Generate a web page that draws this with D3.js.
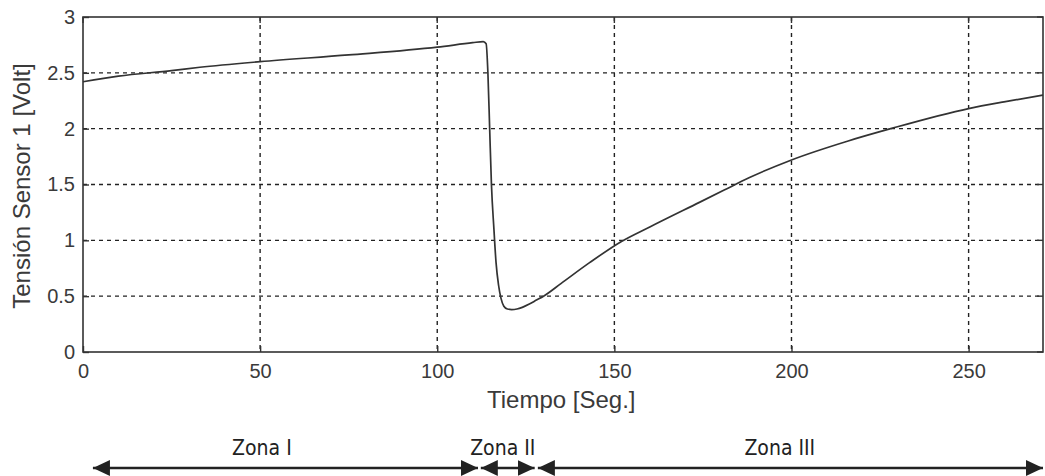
<!DOCTYPE html>
<html>
<head>
<meta charset="utf-8">
<script src="https://cdn.jsdelivr.net/npm/d3@7"></script>
<style>
  body { margin: 0; background: #fff; }
  text { font-family: "Liberation Sans", Arial, sans-serif; }
</style>
</head>
<body>
<div id="chart"></div>
<script>
// time (s) and voltage
const tiempo = [0, 10, 25, 33, 50, 75, 100, 110, 113, 113.8, 114.3, 114.8, 115.3, 116, 116.6, 117.3, 118, 118.8, 119.8, 121, 122.5, 124, 126, 128, 130, 135, 143, 152, 160, 174, 181, 188, 200, 216, 228, 250, 260, 271];
const tension = [2.42, 2.47, 2.52, 2.55, 2.6, 2.66, 2.73, 2.77, 2.78, 2.76, 2.5, 2.0, 1.5, 1.1, 0.8, 0.6, 0.48, 0.41, 0.385, 0.38, 0.385, 0.4, 0.43, 0.465, 0.5, 0.615, 0.8, 0.99, 1.12, 1.34, 1.45, 1.56, 1.72, 1.89, 2.0, 2.18, 2.24, 2.3];
const xTicks = [0, 50, 100, 150, 200, 250];
const yTicks = [0, 0.5, 1, 1.5, 2, 2.5, 3];
const zonas = ["Zona I", "Zona II", "Zona III"];
const zonaInicio = [2.8, 112.3, 128.4];
const zonaFin = [111.5, 127.5, 271];
const zonaEtiqueta = [50.5, 118.5, 196.7];

const W = 1045, H = 476;
const margin = { top: 17, right: 2, bottom: 124, left: 83 },
      width = W - margin.left - margin.right,
      height = H - margin.top - margin.bottom;

const svg = d3.select("#chart").append("svg")
    .attr("width", W).attr("height", H);

const g = svg.append("g")
    .attr("transform", `translate(${margin.left},${margin.top})`);

const x = d3.scaleLinear().domain([0, 271]).range([0, width]);
const y = d3.scaleLinear().domain([0, 3]).range([height, 0]);

// grid
g.selectAll(".gx").data(xTicks.filter(d => d > 0)).enter().append("line")
  .attr("x1", d => x(d)).attr("x2", d => x(d))
  .attr("y1", 0).attr("y2", height)
  .attr("stroke", "#222").attr("stroke-width", 1.4).attr("stroke-dasharray", "4,4");
g.selectAll(".gy").data(yTicks.filter(d => d > 0 && d < 3)).enter().append("line")
  .attr("x1", 0).attr("x2", width)
  .attr("y1", d => y(d)).attr("y2", d => y(d))
  .attr("stroke", "#222").attr("stroke-width", 1.4).attr("stroke-dasharray", "4,4");

// axes
const xAxis = g.append("g").attr("transform", `translate(0,${height})`)
  .call(d3.axisBottom(x).tickValues(xTicks).tickSize(-6).tickPadding(12).tickFormat(d3.format("d")));
const yAxis = g.append("g")
  .call(d3.axisLeft(y).tickValues(yTicks).tickSize(-6).tickPadding(8).tickFormat(d => d));
[xAxis, yAxis].forEach(a => {
  a.select(".domain").remove();
  a.selectAll("line").attr("stroke", "#333").attr("stroke-width", 1.4);
  a.selectAll("text").attr("fill", "#3a3a3a").style("font-size", "20px")
    .style("font-family", "'Liberation Sans', Arial, sans-serif");
});
// top/right ticks
g.selectAll(".tt").data(xTicks).enter().append("line")
  .attr("x1", d => x(d)).attr("x2", d => x(d)).attr("y1", 0).attr("y2", 6)
  .attr("stroke", "#333").attr("stroke-width", 1.4);
g.selectAll(".tr").data(yTicks).enter().append("line")
  .attr("x1", width).attr("x2", width - 6).attr("y1", d => y(d)).attr("y2", d => y(d))
  .attr("stroke", "#333").attr("stroke-width", 1.4);

g.append("rect").attr("width", width).attr("height", height)
  .attr("fill", "none").attr("stroke", "#333").attr("stroke-width", 1.6);

// curve
const pts = tiempo.map((t, i) => [t, tension[i]]);
g.append("path").datum(pts)
  .attr("fill", "none").attr("stroke", "#333").attr("stroke-width", 1.7)
  .attr("d", d3.line().x(d => x(d[0])).y(d => y(d[1])).curve(d3.curveMonotoneX));

// axis labels
svg.append("text").attr("x", margin.left + x(135)).attr("y", 408)
  .attr("text-anchor", "middle").attr("fill", "#3a3a3a").style("font-size", "24px")
  .text("Tiempo [Seg.]");
svg.append("text").attr("transform", `translate(30,${margin.top + 169}) rotate(-90)`)
  .attr("text-anchor", "middle").attr("fill", "#3a3a3a").style("font-size", "24px")
  .text("Tensión Sensor 1 [Volt]");

// zones
const defs = svg.append("defs");
defs.append("marker").attr("id", "ah").attr("viewBox", "0 0 17 16")
  .attr("refX", 17).attr("refY", 8).attr("markerWidth", 17).attr("markerHeight", 16)
  .attr("markerUnits", "userSpaceOnUse").attr("orient", "auto-start-reverse")
  .append("path").attr("d", "M0,0 L17,8 L0,16 Z").attr("fill", "#222");

const zg = svg.append("g").attr("transform", `translate(${margin.left},0)`);
zonas.forEach((z, i) => {
  zg.append("line")
    .attr("x1", x(zonaInicio[i])).attr("x2", x(zonaFin[i]))
    .attr("y1", 468).attr("y2", 468)
    .attr("stroke", "#222").attr("stroke-width", 2.5)
    .attr("marker-start", "url(#ah)").attr("marker-end", "url(#ah)");
  zg.append("text")
    .attr("x", x(zonaEtiqueta[i]))
    .attr("y", 455).attr("text-anchor", "middle").attr("fill", "#222")
    .style("font-family", "'DejaVu Sans Condensed', 'DejaVu Sans', sans-serif")
    .style("font-size", "21px").text(z);
});
</script>
</body>
</html>
